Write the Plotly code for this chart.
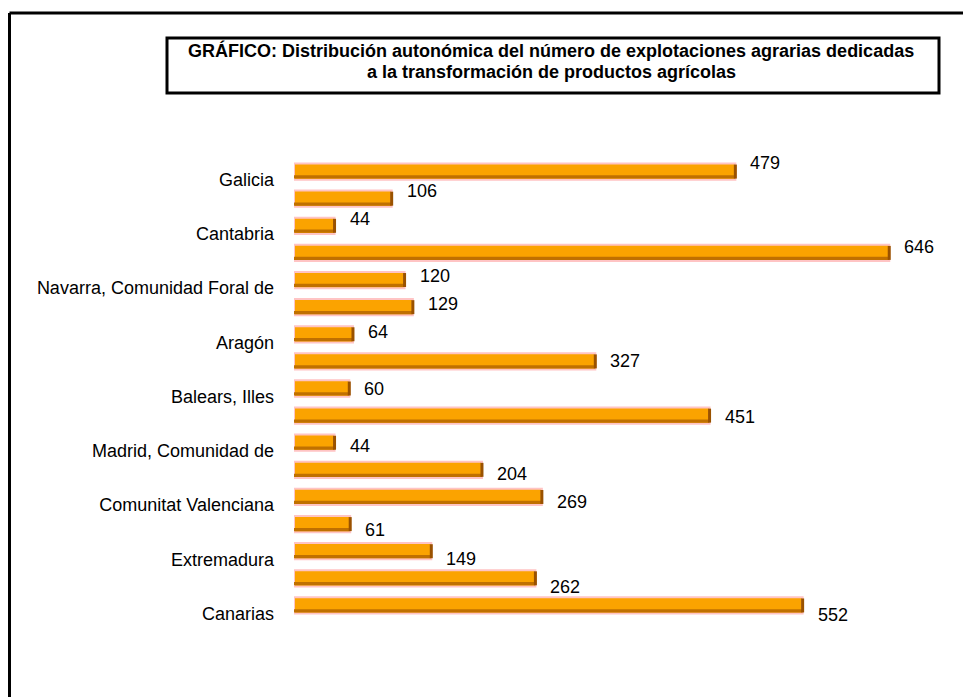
import plotly.graph_objects as go

# ---------------- data ----------------
regions = [
    "Galicia", "Asturias, Principado de", "Cantabria", "País Vasco",
    "Navarra, Comunidad Foral de", "Rioja, La", "Aragón", "Cataluña",
    "Balears, Illes", "Castilla y León", "Madrid, Comunidad de",
    "Castilla-La Mancha", "Comunitat Valenciana", "Murcia, Región de",
    "Extremadura", "Andalucía", "Canarias",
]
values = [479, 106, 44, 646, 120, 129, 64, 327, 60, 451, 44, 204, 269, 61, 149, 262, 552]
tick_labels = regions[::2]          # Excel shows every other category label
title_lines = [
    "GRÁFICO: Distribución autonómica del número de explotaciones agrarias dedicadas",
    "a la transformación de productos agrícolas",
]

# ---------------- layout geometry (figure pixels) ----------------
W, H = 971, 697
L, R = 286, 931          # plot area left / right
T, B = 150, 611          # plot area top / bottom
XMAX = 700

def px_x(p):
    return (p - L) / (R - L)

def px_y(p):
    return (B - p) / (B - T)

FONT = "Liberation Sans, Arial, sans-serif"

fig = go.Figure()

# cylinder body
fig.add_trace(go.Bar(
    y=regions, x=values, orientation="h", width=0.6,
    marker=dict(color="#FBA300", line=dict(color="#FFC4C4", width=2)),
    hoverinfo="skip", showlegend=False,
))
# darker lower shade of the cylinder
fig.add_trace(go.Bar(
    y=regions, x=values, orientation="h", width=0.12, offset=0.14,
    marker=dict(color="#C07000", line=dict(width=0)),
    hoverinfo="skip", showlegend=False,
))
# end cap
fig.add_trace(go.Scatter(
    y=regions, x=values, mode="markers",
    marker=dict(symbol="line-ns", size=10, line=dict(color="#9A5200", width=3)),
    hoverinfo="skip", showlegend=False,
))
# invisible helper on the label axis
fig.add_trace(go.Scatter(
    x=values, y=list(range(len(values))), yaxis="y2", mode="markers",
    marker=dict(opacity=0), hoverinfo="skip", showlegend=False,
))

annotations = []
for i, v in enumerate(values):
    annotations.append(dict(
        x=v, y=i, xref="x", yref="y2", text=str(v), showarrow=False,
        xanchor="left", yanchor="middle", xshift=13,
        font=dict(family=FONT, size=18, color="#000"),
    ))

for line, yc in zip(title_lines, [43, 64]):
    annotations.append(dict(
        x=px_x(543), y=px_y(yc), xref="paper", yref="paper",
        text="<b>" + line + "</b>",
        showarrow=False, xanchor="center", yanchor="middle",
        font=dict(family=FONT, size=18, color="#000"),
    ))

shapes = [
    # title box
    dict(type="rect", xref="paper", yref="paper",
         x0=px_x(159), x1=px_x(931), y0=px_y(30), y1=px_y(85),
         line=dict(color="#000", width=3), fillcolor="rgba(0,0,0,0)"),
    # outer frame: top and left edges
    dict(type="line", xref="paper", yref="paper",
         x0=px_x(1.5), x1=px_x(980), y0=px_y(5), y1=px_y(5),
         line=dict(color="#000", width=3)),
    dict(type="line", xref="paper", yref="paper",
         x0=px_x(1.5), x1=px_x(1.5), y0=px_y(5), y1=px_y(710),
         line=dict(color="#000", width=3)),
]

fig.update_layout(
    width=W, height=H,
    margin=dict(l=L, r=W - R, t=T, b=H - B, autoexpand=False),
    paper_bgcolor="white", plot_bgcolor="white",
    barmode="overlay",
    xaxis=dict(range=[0, XMAX], visible=False, showgrid=False, zeroline=False),
    yaxis=dict(
        type="category", categoryorder="array", categoryarray=regions,
        range=[len(regions) - 0.5, -0.5],
        tickmode="array", tickvals=tick_labels, ticktext=tick_labels,
        showgrid=False, zeroline=False, showline=False, ticks="",
        ticklabelstandoff=19, ticklabelshift=-8,
        tickfont=dict(family=FONT, size=18, color="#000"),
    ),
    yaxis2=dict(
        overlaying="y", range=[16.13, -0.16], visible=False,
        showgrid=False, zeroline=False,
    ),
    annotations=annotations,
    shapes=shapes,
    showlegend=False,
)

fig.write_html("out.html")
